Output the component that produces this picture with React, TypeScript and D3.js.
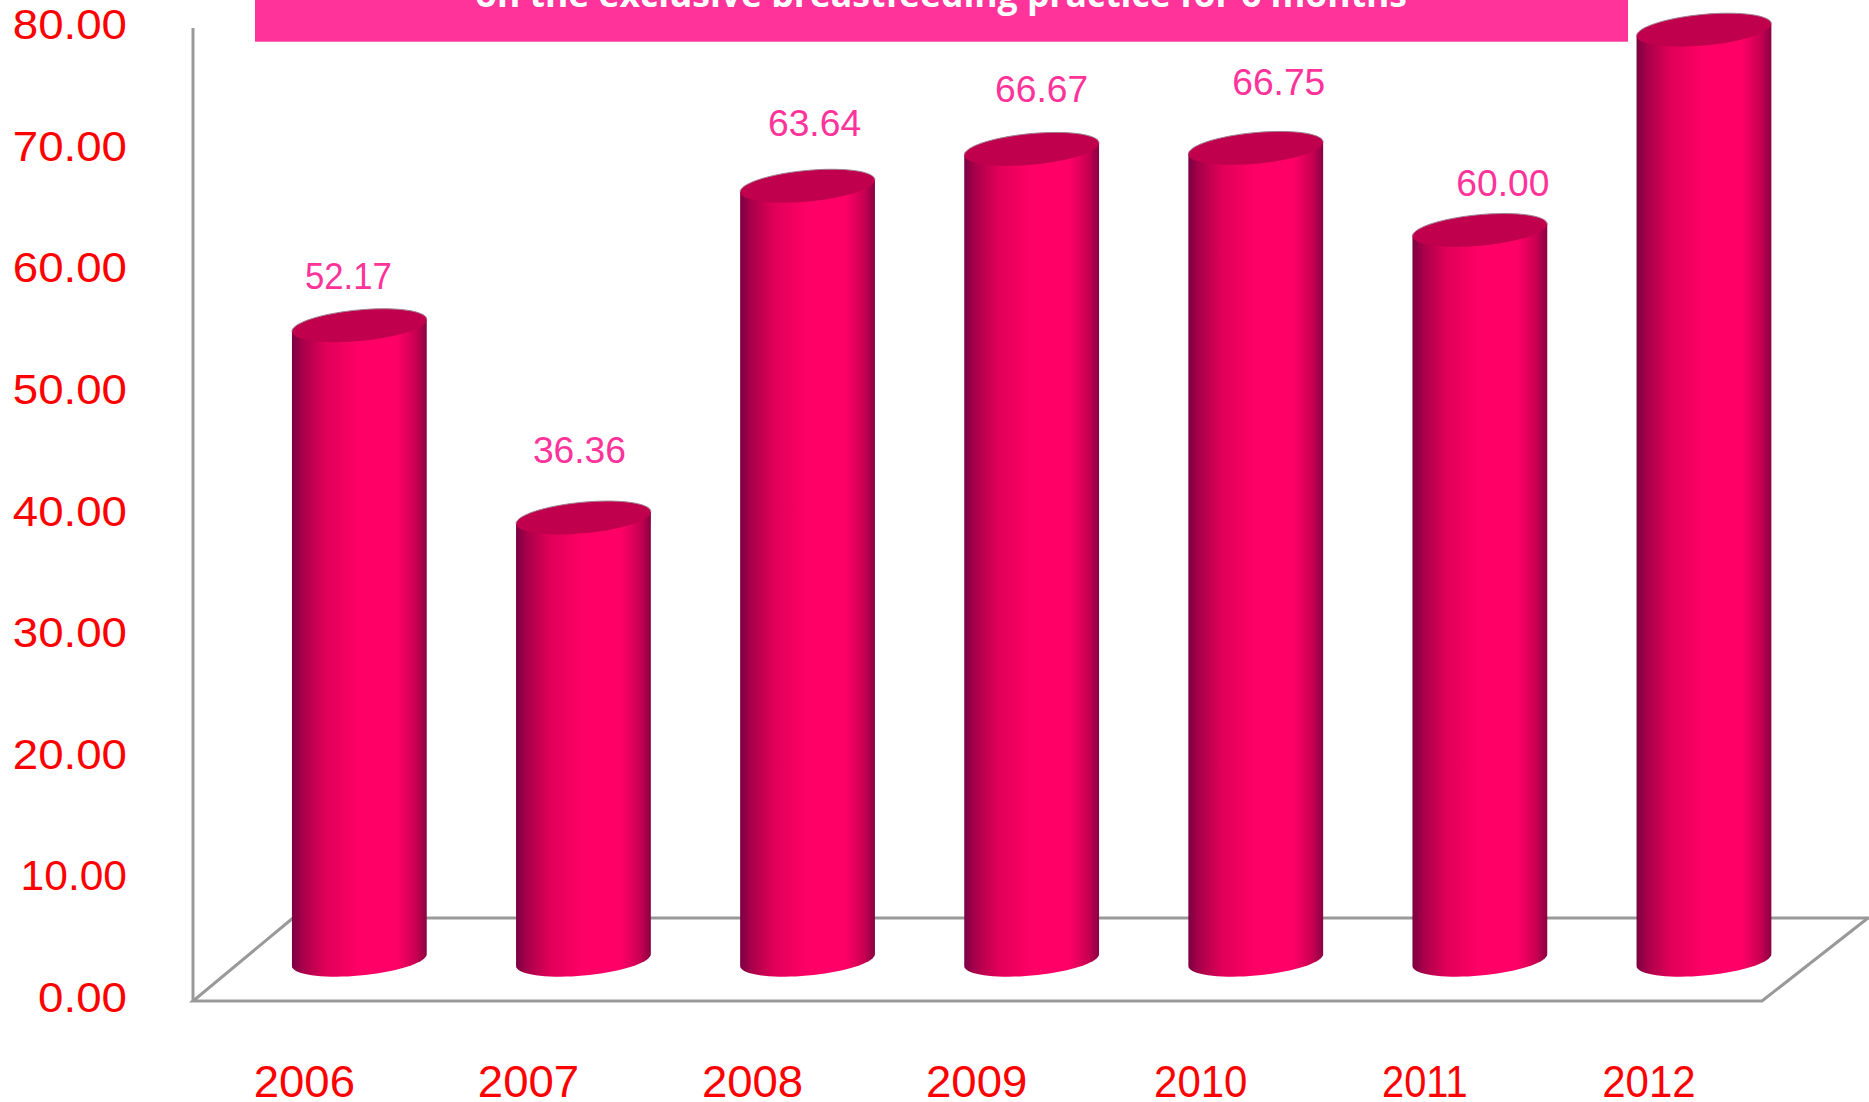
import * as d3 from 'd3'

const years = ['2006', '2007', '2008', '2009', '2010', '2011', '2012']
const values = [52.17, 36.36, 63.64, 66.67, 66.75, 60.0, 76.47]
const yTicks = [0, 10, 20, 30, 40, 50, 60, 70, 80]
const titleText = 'on the exclusive breastfeeding practice for 6 months'
// labels in the picture are not centred on the bars, they drift around
const labelNudgeX = [-11, -4, 7, 10, 23, 23, 23]
const labelNudgeY = [0, -19, -14, -11, -17, 2, 0]

const width = 1869
const height = 1102
const axisX = 193
const frontRight = 1762
const depthX = 100
const depthY = 83
const baseLift = 41
const capA = 67.4
const capB = 15.6
const capRise = 6
const grey = '#999999'
const pink = '#ff3399'
const labelFont = '"Liberation Sans", Arial, sans-serif'

const y = d3.scaleLinear().domain([0, 80]).range([1001, 28])
const x = d3.scaleBand().domain(years).range([292, 1771.3]).paddingInner(0.399).paddingOuter(0)

// tilted ellipse, t runs in degrees
const ellipsePoint = (cx: number, cy: number, t: number): [number, number] => {
  const c = Math.cos((t * Math.PI) / 180)
  const s = Math.sin((t * Math.PI) / 180)
  return [cx + capA * c, cy + capB * s - capRise * c]
}

// the original font has wider digits and a narrow 1, so set the text length by hand
const textWidth = (s: string, k: number) =>
  d3.sum(s.split(''), ch => (ch === '.' ? 13 : ch === '1' ? 17.5 : 25.3)) * k

const line = d3.line()

const App = () => {
  const bw = x.bandwidth()
  const angles = d3.range(0, 361, 5)
  const lower = d3.range(0, 181, 5)
  const upper = d3.range(180, 361, 5)

  return (
    <svg width={width} height={height} style={{ position: 'absolute', left: 0, top: 0, display: 'block' }}>
      <defs>
        <linearGradient id="cyl" x1="0" x2="1" y1="0" y2="0">
          <stop offset="0" stopColor="#7a0040" />
          <stop offset="0.08" stopColor="#a8004a" />
          <stop offset="0.25" stopColor="#e00058" />
          <stop offset="0.5" stopColor="#ff0066" />
          <stop offset="0.78" stopColor="#ff0066" />
          <stop offset="0.92" stopColor="#c80052" />
          <stop offset="1" stopColor="#8a0042" />
        </linearGradient>
      </defs>

      <rect width={width} height={height} fill="#ffffff" />

      <g fill="none" stroke={grey} strokeWidth={3}>
        <line x1={axisX} x2={axisX} y1={y(80)} y2={y(0)} />
        <path d={line([[axisX + depthX, y(0) - depthY], [width, y(0) - depthY]]) || ''} />
        <path d={line([[axisX + depthX, y(0) - depthY], [axisX, y(0)], [frontRight, y(0)], [frontRight + depthX + 6, y(0) - depthY]]) || ''} />
      </g>

      <rect x={255} y={-40} width={1373} height={81.7} fill={pink} />
      <text x={941} y={7} textAnchor="middle" fontFamily='"Open Sans", sans-serif' fontWeight={700} fontSize={35.5} fill="#ffffff">
        {titleText}
      </text>

      {yTicks.map(t => (
        <text
          key={t}
          x={127}
          y={y(t) + 11}
          textAnchor="end"
          fontFamily={labelFont}
          fontSize={43}
          fill="#ff0000"
          textLength={textWidth(t.toFixed(2), 1)}
          lengthAdjust="spacingAndGlyphs"
        >
          {t.toFixed(2)}
        </text>
      ))}

      {years.map((yr, i) => {
        const cx = (x(yr) as number) + bw / 2
        const topY = y(values[i]) - baseLift
        const baseY = y(0) - baseLift
        const body = [
          ellipsePoint(cx, topY, 180),
          ...lower.slice().reverse().map(t => ellipsePoint(cx, baseY, t)),
          ellipsePoint(cx, topY, 0),
        ] as [number, number][]
        return (
          <g key={yr}>
            <path d={(line(body) || '') + 'Z'} fill="url(#cyl)" />
            <path d={(line(angles.map(t => ellipsePoint(cx, topY, t))) || '') + 'Z'} fill="#c0004d" />
            <path d={line(upper.map(t => ellipsePoint(cx, topY, t))) || ''} fill="none" stroke="#a08090" strokeWidth={1} />
            <text
              x={cx + labelNudgeX[i]}
              y={topY - 36 + labelNudgeY[i]}
              textAnchor="middle"
              fontFamily={labelFont}
              fontSize={36}
              fill={pink}
              textLength={textWidth(values[i].toFixed(2), 0.815)}
              lengthAdjust="spacingAndGlyphs"
            >
              {values[i].toFixed(2)}
            </text>
            <text
              x={cx - 55}
              y={1097}
              textAnchor="middle"
              fontFamily={labelFont}
              fontSize={44}
              fill="#ff0000"
              textLength={textWidth(yr, 1)}
              lengthAdjust="spacingAndGlyphs"
            >
              {yr}
            </text>
          </g>
        )
      })}
    </svg>
  )
}

export default App
